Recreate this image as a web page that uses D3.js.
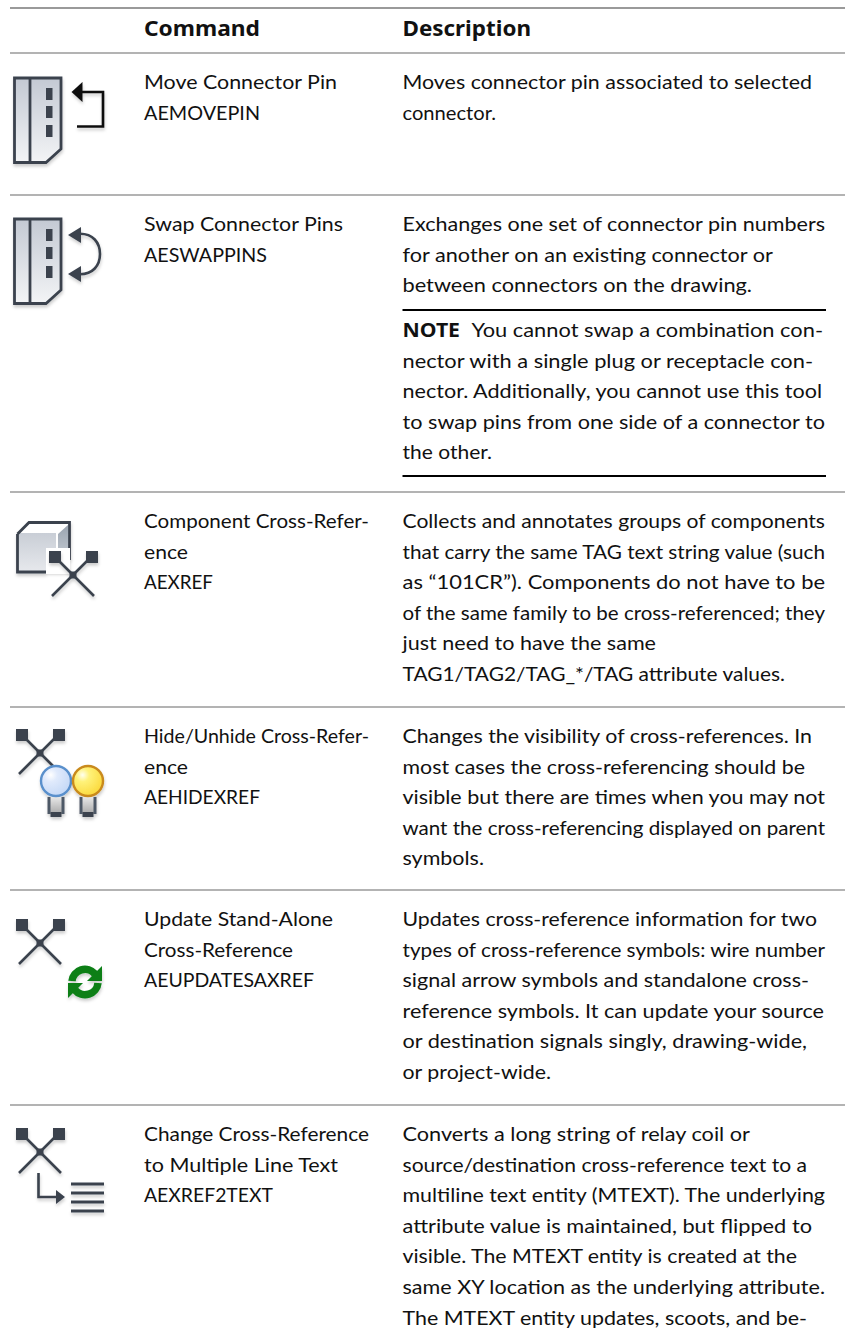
<!DOCTYPE html>
<html>
<head>
<meta charset="utf-8">
<style>
  html, body { margin: 0; padding: 0; background: #fff; }
  svg { display: block; }
</style>
<script src="https://cdn.jsdelivr.net/npm/d3@7/dist/d3.min.js"></script>
</head>
<body>
<script>
const headers = ["Command", "Description"];

const commandLines = [
  ["Move Connector Pin", "AEMOVEPIN"],
  ["Swap Connector Pins", "AESWAPPINS"],
  ["Component Cross-Refer-", "ence", "AEXREF"],
  ["Hide/Unhide Cross-Refer-", "ence", "AEHIDEXREF"],
  ["Update Stand-Alone", "Cross-Reference", "AEUPDATESAXREF"],
  ["Change Cross-Reference", "to Multiple Line Text", "AEXREF2TEXT"]
];

const descriptionLines = [
  ["Moves connector pin associated to selected", "connector."],
  ["Exchanges one set of connector pin numbers", "for another on an existing connector or", "between connectors on the drawing."],
  ["Collects and annotates groups of components", "that carry the same TAG text string value (such", "as \u201c101CR\u201d). Components do not have to be", "of the same family to be cross-referenced; they", "just need to have the same", "TAG1/TAG2/TAG_*/TAG attribute values."],
  ["Changes the visibility of cross-references. In", "most cases the cross-referencing should be", "visible but there are times when you may not", "want the cross-referencing displayed on parent", "symbols."],
  ["Updates cross-reference information for two", "types of cross-reference symbols: wire number", "signal arrow symbols and standalone cross-", "reference symbols. It can update your source", "or destination signals singly, drawing-wide,", "or project-wide."],
  ["Converts a long string of relay coil or", "source/destination cross-reference text to a", "multiline text entity (MTEXT). The underlying", "attribute value is maintained, but flipped to", "visible. The MTEXT entity is created at the", "same XY location as the underlying attribute.", "The MTEXT entity updates, scoots, and be-"]
];

const noteLabel = "NOTE";
const noteLines = [
  "You cannot swap a combination con-",
  "nector with a single plug or receptacle con-",
  "nector. Additionally, you cannot use this tool",
  "to swap pins from one side of a connector to",
  "the other."
];

// layout: where each line of text ends
const commandEnds = [
  [337, 260], [343, 267], [369, 188, 213], [369, 188, 260], [333, 293, 314], [369, 338, 273]
];
const descriptionEnds = [
  [812, 496], [825, 773, 752], [825, 825, 825, 825, 656, 785], [812, 805, 825, 825, 484],
  [817, 825, 809, 824, 807, 551], [750, 807, 825, 812, 797, 825, 807]
];
const noteEnds = [823, 813, 822, 825, 492];

const width = 845;
const height = 1330;
const commandX = 144;
const descX = 402.5;
const descRight = 826;
const ruleLeft = 10;
const lineHeight = 30.6;
const font = "Lato, 'Noto Sans', sans-serif";
const boldFont = "'Noto Sans', Lato, sans-serif";
const fontSize = 20;

// y of the top of each row (grey rules)
const rowTops = [53, 195, 492, 707, 890, 1105];

const svg = d3.select("body").append("svg")
  .attr("width", width)
  .attr("height", height)
  .attr("viewBox", [0, 0, width, height]);

const defs = svg.append("defs");

const shadow = defs.append("filter").attr("id", "shadow")
  .attr("x", "-20%").attr("y", "-20%").attr("width", "150%").attr("height", "150%");
shadow.append("feDropShadow")
  .attr("dx", 0.5).attr("dy", 2.5).attr("stdDeviation", 1.5)
  .attr("flood-color", "#000").attr("flood-opacity", 0.2);

// the icons are scaled bitmaps in the original, so soften them a bit
const soft = defs.append("filter").attr("id", "soft")
  .attr("filterUnits", "userSpaceOnUse")
  .attr("x", 0).attr("y", 0).attr("width", 140).attr("height", height);
soft.append("feGaussianBlur").attr("stdDeviation", 0.45);

function linear(id, stops) {
  const g = defs.append("linearGradient").attr("id", id)
    .attr("x1", 0).attr("y1", 0).attr("x2", 0).attr("y2", 1);
  stops.forEach(([o, c]) => g.append("stop").attr("offset", o).attr("stop-color", c));
}
linear("body", [[0, "#c3c9d3"], [1, "#f3f4f6"]]);
linear("cube", [[0, "#c9ced6"], [1, "#e6e8ec"]]);
linear("side", [[0, "#9aa4b0"], [1, "#c6ccd4"]]);
linear("socket", [[0, "#e8e8e8"], [1, "#a8a8a8"]]);

const radial = (id, stops) => {
  const g = defs.append("radialGradient").attr("id", id)
    .attr("cx", 0.32).attr("cy", 0.3).attr("r", 0.75);
  stops.forEach(([o, c]) => g.append("stop").attr("offset", o).attr("stop-color", c));
};
radial("blue", [[0, "#ffffff"], [0.3, "#e0eafc"], [1, "#c4d8f6"]]);
radial("yellow", [[0, "#fffff0"], [0.3, "#fff27a"], [1, "#fbd93c"]]);

// grey table rules
const rule = (y, w) => svg.append("line")
  .attr("x1", ruleLeft).attr("x2", width).attr("y1", y).attr("y2", y)
  .attr("stroke", "#9a9a9a").attr("stroke-width", w);

rule(8, 1.8);
rowTops.forEach(y => rule(y, 1.3));

const addText = (x, y, s, end) => svg.append("text")
  .attr("x", x).attr("y", y)
  .attr("font-family", font)
  .attr("font-size", fontSize)
  .attr("fill", "#111")
  .attr("textLength", end - x)
  .attr("lengthAdjust", "spacingAndGlyphs")
  .text(s);

const addBold = (x, y, s, end, size) => addText(x, y, s, end)
  .attr("font-family", boldFont)
  .attr("font-weight", 700)
  .attr("font-size", size);

addBold(commandX, 36, headers[0], 260, 20.5);
addBold(descX, 36, headers[1], 531, 20.5);

// baseline of line i inside a row
const baseline = d3.scaleLinear().domain([0, 1]).range([36, 36 + lineHeight]);

commandLines.forEach((lines, r) => {
  lines.forEach((s, i) => addText(commandX, rowTops[r] + baseline(i), s, commandEnds[r][i]));
});

descriptionLines.forEach((lines, r) => {
  lines.forEach((s, i) => addText(descX, rowTops[r] + baseline(i), s, descriptionEnds[r][i]));
});

// NOTE block in row 2
const noteTop = 310;
svg.selectAll(".noteRule").data([noteTop, 476]).join("line")
  .attr("x1", descX).attr("x2", descRight)
  .attr("y1", d => d).attr("y2", d => d)
  .attr("stroke", "#000").attr("stroke-width", 2);

addBold(descX, 337, noteLabel, 460, 20);
noteLines.forEach((s, i) => {
  addText(i === 0 ? 471.5 : descX, noteTop + baseline(i) - 9, s, noteEnds[i]);
});

// icons
const icons = svg.append("g").attr("filter", "url(#soft)");
const dark = "#3a424e";

function connector(y) {
  const g = icons.append("g").attr("transform", `translate(0,${y})`);
  const s = g.append("g").attr("filter", "url(#shadow)");
  s.append("path")
    .attr("d", "M14.5,2H61V73L46,86.5H14.5Z")
    .attr("fill", "url(#body)").attr("stroke", dark).attr("stroke-width", 2.8);
  g.append("path").attr("d", "M30,2V86").attr("stroke", dark).attr("stroke-width", 2.8);
  [12, 30, 49].forEach(p => g.append("rect")
    .attr("x", 46).attr("y", p).attr("width", 6.5).attr("height", 12).attr("fill", dark));
  return g;
}

const arrowHead = (g, x, y, dir, len, half, color) => g.append("path")
  .attr("d", `M${x},${y}L${x + dir * len},${y - half}V${y + half}Z`)
  .attr("fill", color).attr("stroke", "none");

// move connector pin
connector(76);
const a1 = icons.append("g").attr("filter", "url(#shadow)");
a1.append("path").attr("d", "M77,126.5H103V92H80")
  .attr("fill", "none").attr("stroke", "#111").attr("stroke-width", 2.6);
arrowHead(a1, 71.5, 92, 1, 11, 10, "#111");

// swap pins
connector(217);
const a2 = icons.append("g").attr("filter", "url(#shadow)");
a2.append("path").attr("d", "M76,234C94,232,100,244,100,254C100,264,94,276,76,274")
  .attr("fill", "none").attr("stroke", dark).attr("stroke-width", 2.6);
arrowHead(a2, 68, 235, 1, 13, 8, dark);
arrowHead(a2, 68, 274, 1, 13, 8, dark);

function crossIcon(cx, cy) {
  const g = icons.append("g").attr("filter", "url(#shadow)");
  g.append("path")
    .attr("d", `M${cx - 18},${cy - 18}L${cx + 21},${cy + 21}M${cx + 18},${cy - 18}L${cx - 21},${cy + 21}`)
    .attr("stroke", dark).attr("stroke-width", 2.6).attr("fill", "none");
  g.append("rect").attr("x", cx - 24).attr("y", cy - 24).attr("width", 12).attr("height", 12).attr("fill", dark);
  g.append("rect").attr("x", cx + 13).attr("y", cy - 24).attr("width", 12).attr("height", 12).attr("fill", dark);
  g.append("rect").attr("x", cx - 3.5).attr("y", cy - 3.5).attr("width", 7).attr("height", 7).attr("fill", dark);
  return g;
}

// cube with cross
const cube = icons.append("g").attr("filter", "url(#shadow)");
cube.append("path").attr("d", "M17.5,533L28,522H69.5V572H17.5Z").attr("fill", "#fff");
cube.append("rect").attr("x", 19).attr("y", 533).attr("width", 37).attr("height", 38).attr("fill", "url(#cube)");
cube.append("path").attr("d", "M58,534L68,525V560H58Z").attr("fill", "url(#side)");
cube.append("path").attr("d", "M17.5,534L29,522.5H69.5V560M17.5,534V572H46")
  .attr("fill", "none").attr("stroke", dark).attr("stroke-width", 2.8);
icons.append("rect").attr("x", 46).attr("y", 548).attr("width", 24).attr("height", 26).attr("fill", "#fff");
crossIcon(73, 575);

// cross and bulbs
crossIcon(40, 753);

function bulb(cx, fill, ring) {
  const g = icons.append("g").attr("filter", "url(#shadow)");
  g.append("rect").attr("x", cx - 8).attr("y", 797).attr("width", 16).attr("height", 17).attr("fill", "url(#socket)");
  g.append("path").attr("d", `M${cx - 7},797V814M${cx + 7},797V814`)
    .attr("fill", "none").attr("stroke", "#4e5866").attr("stroke-width", 3);
  g.append("rect").attr("x", cx - 5.5).attr("y", 812).attr("width", 11).attr("height", 5).attr("fill", dark);
  g.append("circle").attr("cx", cx).attr("cy", 781).attr("r", 15)
    .attr("fill", `url(#${fill})`).attr("stroke", ring).attr("stroke-width", 2.4);
}
bulb(56, "blue", "#5a90cc");
bulb(88, "yellow", "#c98a1e");

// cross and refresh
crossIcon(40, 943);
const refresh = icons.append("g").attr("filter", "url(#shadow)");
const green = "#0a7f16";
refresh.append("path")
  .attr("d", "M72,981A13,13,0,0,1,95,974M98,983A13,13,0,0,1,75,990")
  .attr("fill", "none").attr("stroke", green).attr("stroke-width", 7.5);
refresh.append("path").attr("d", "M102,966V981H87Z").attr("fill", green);
refresh.append("path").attr("d", "M68,998V983H83Z").attr("fill", green);

// cross and text lines
crossIcon(40, 1152);
const elbow = icons.append("g").attr("filter", "url(#shadow)");
elbow.append("path").attr("d", "M38.5,1173V1197H58")
  .attr("fill", "none").attr("stroke", dark).attr("stroke-width", 2.6);
arrowHead(elbow, 65, 1197, -1, 9, 7, dark);
elbow.selectAll("rect").data([1184, 1193, 1202, 1211]).join("rect")
  .attr("x", 71).attr("width", 33).attr("y", d => d - 1.5).attr("height", 3).attr("fill", dark);
</script>
</body>
</html>
